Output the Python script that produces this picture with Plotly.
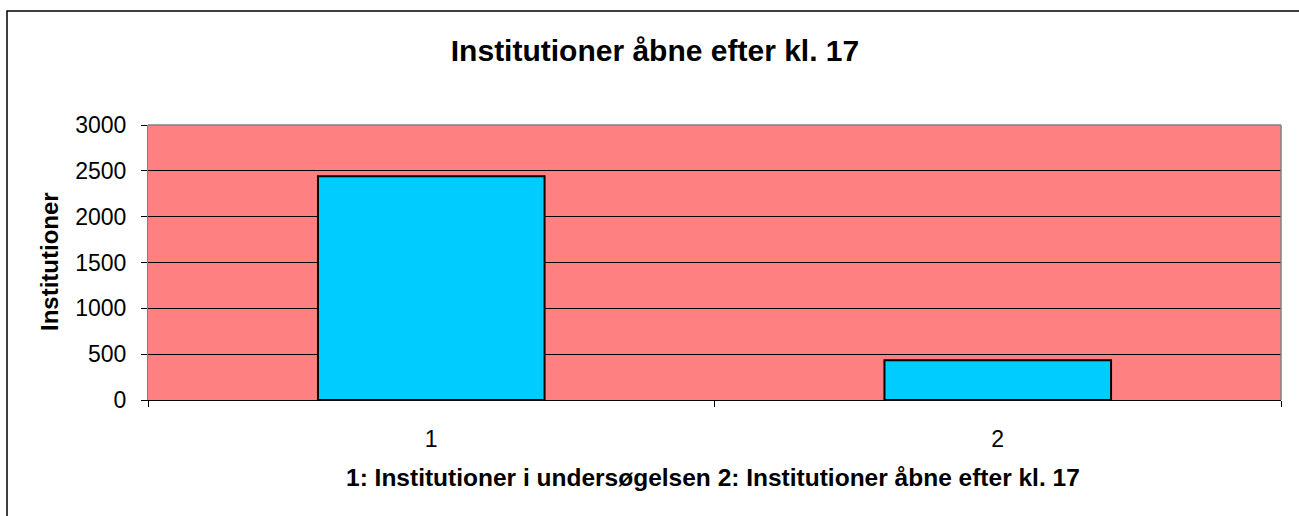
import plotly.graph_objects as go

categories = ["1", "2"]
values = [2440, 433]
y_ticks = [0, 500, 1000, 1500, 2000, 2500, 3000]

title_text = "Institutioner åbne efter kl. 17"
x_title = "1: Institutioner i undersøgelsen 2: Institutioner åbne efter kl. 17"
y_title = "Institutioner"

W, H = 1299, 516
L, R, T, B = 148, 18, 125, 116
PW, PH = W - L - R, H - T - B

def px(x):
    return (x - L) / PW

def py(y):
    return (H - B - y) / PH

FONT = "Liberation Sans, Arial, sans-serif"

fig = go.Figure()
fig.add_trace(go.Bar(
    x=categories, y=values, width=0.4,
    marker=dict(color="#00CCFF", line=dict(color="black", width=2)),
))

fig.update_layout(
    width=W, height=H, autosize=False,
    margin=dict(l=L, r=R, t=T, b=B, pad=0),
    paper_bgcolor="white", plot_bgcolor="#FF8080",
    font=dict(family=FONT, color="black", size=23),
    showlegend=False,
    title=dict(text="<b>" + title_text + "</b>", x=655 / W, xanchor="center",
               y=1 - 50 / H, yanchor="middle", font=dict(size=30, family=FONT)),
    xaxis=dict(
        type="category", tickson="boundaries", ticks="outside", ticklen=6,
        tickcolor="black", showline=True, linecolor="black", linewidth=1,
        showgrid=False, ticklabelstandoff=18, tickfont=dict(size=23),
    ),
    yaxis=dict(
        range=[0, 3000], tickvals=y_ticks, ticks="outside", ticklen=6,
        tickcolor="black", showline=True, linecolor="#808080", linewidth=1,
        showgrid=True, gridcolor="black", gridwidth=1, zeroline=False,
        ticklabelstandoff=10, tickfont=dict(size=23),
    ),
    shapes=[
        dict(type="line", xref="paper", yref="paper", x0=0, x1=1, y0=1, y1=1,
             line=dict(color="#808080", width=1.5)),
        dict(type="line", xref="paper", yref="paper", x0=1, x1=1, y0=0, y1=1,
             line=dict(color="#808080", width=1.5)),
        dict(type="rect", xref="paper", yref="paper",
             x0=px(7), x1=px(1320), y0=py(530), y1=py(11),
             line=dict(color="black", width=1.5), fillcolor="rgba(0,0,0,0)",
             layer="above"),
    ],
    annotations=[
        dict(text="<b>" + x_title + "</b>", xref="paper", yref="paper",
             x=px(712.5), y=py(477), xanchor="center", yanchor="middle",
             showarrow=False, font=dict(size=24.5, family=FONT)),
        dict(text="<b>" + y_title + "</b>", xref="paper", yref="paper",
             x=px(49), y=py(262), xanchor="center", yanchor="middle",
             textangle=-90, showarrow=False, font=dict(size=24, family=FONT)),
    ],
)

fig.write_html("out.html", config={"displayModeBar": False},
               post_script="document.body.style.margin='0';")
